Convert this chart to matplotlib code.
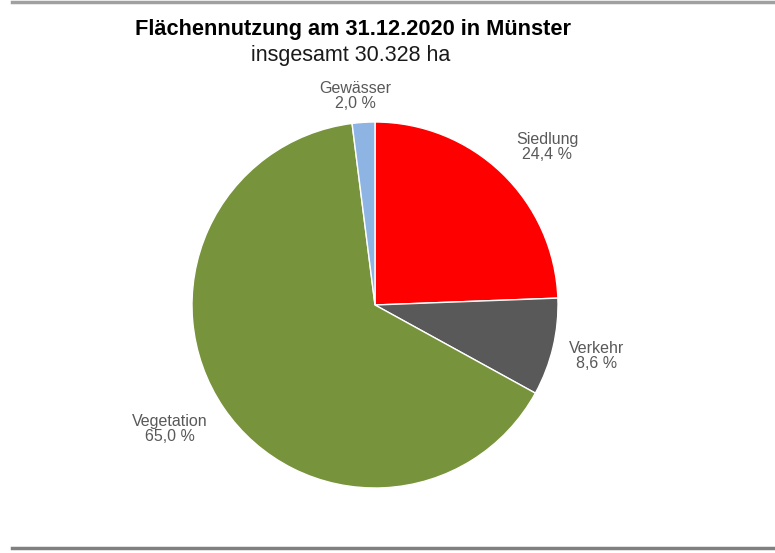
import matplotlib.pyplot as plt

plt.rcParams["font.family"] = ["Liberation Sans", "DejaVu Sans"]

# data
categories = ["Siedlung", "Verkehr", "Vegetation", "Gewässer"]
shares = [24.4, 8.6, 65.0, 2.0]
colors = ["#FF0000", "#595959", "#77933C", "#8EB4E3"]
title = "Flächennutzung am 31.12.2020 in Münster"
subtitle = "insgesamt 30.328 ha"

W, H = 775, 553
# label centres in pixel coordinates (from top-left)
label_pos = [(547, 147), (597, 356), (170, 429), (355, 96)]

fig = plt.figure(figsize=(W / 100, H / 100), dpi=100)
ax = fig.add_axes([0, 0, 1, 1])

labels = [f"{c}\n{v:.1f} %".replace(".", ",") for c, v in zip(categories, shares)]

wedges, texts = ax.pie(
    shares,
    labels=labels,
    colors=colors,
    startangle=90,
    counterclock=False,
    center=(375, H - 305),
    radius=183,
    wedgeprops={"edgecolor": "white", "linewidth": 1},
    textprops={"fontsize": 11.5, "color": "#595959", "linespacing": 1.05},
    frame=True,
)
ax.set_xlim(0, W)
ax.set_ylim(0, H)
ax.set_aspect("equal")
ax.axis("off")
for t, (px, py) in zip(texts, label_pos):
    t.set_position((px, H - py))
    t.set_horizontalalignment("center")
    t.set_verticalalignment("center")
    t.set_multialignment("center")

# titles
fig.text(353 / W, 1 - 30 / H, title, ha="center", va="center", fontsize=15.7, fontweight="bold")
fig.text(351 / W, 1 - 56 / H, subtitle, ha="center", va="center", fontsize=15.5, color="#1a1a1a")

# framing lines top and bottom
ax.plot([12, W], [H - 1.5, H - 1.5], color="#A0A0A0", linewidth=2.5)
ax.plot([12, W], [H - 548, H - 548], color="#808080", linewidth=2.5)

fig.savefig("out.png", dpi=100)
